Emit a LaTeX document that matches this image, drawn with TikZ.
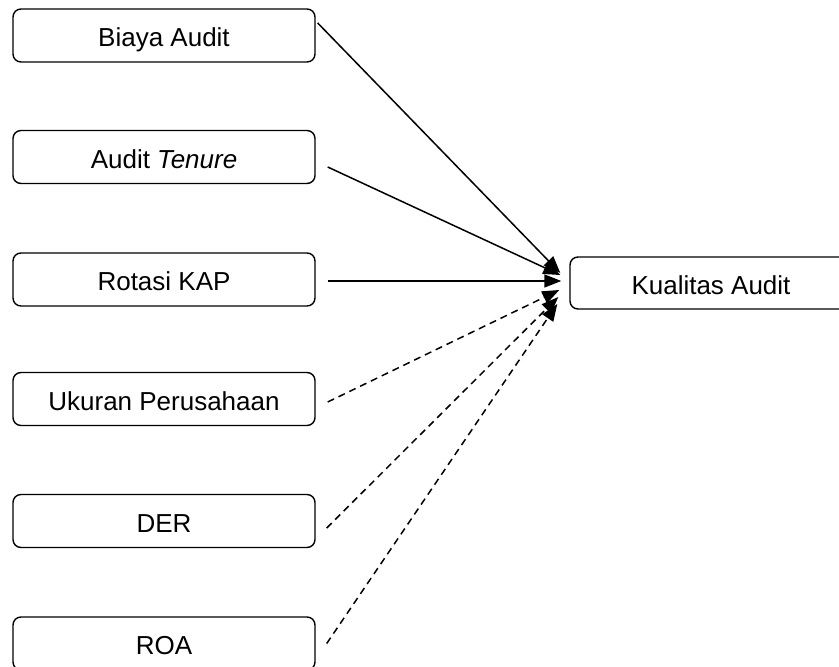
\documentclass[tikz,border=0pt]{standalone}
\usepackage{fontspec}
\setmainfont{Liberation Sans}
\usetikzlibrary{arrows.meta}
\begin{document}
\begin{tikzpicture}[x=1pt,y=1pt,
  box/.style={draw, line width=1.4pt, rounded corners=8pt, minimum width=302pt, minimum height=53pt, inner sep=0pt, text height=22.6pt, text depth=0pt, font=\fontsize{26}{30}\selectfont},
  rbox/.style={box, minimum width=282pt, minimum height=52pt},
  link/.style={line width=1.5pt, -{Triangle[length=17pt,width=13pt]}},
  dlink/.style={link, dash pattern=on 7pt off 5pt}]
\useasboundingbox (0,0) rectangle (839,667);
\clip (0,0) rectangle (839,667);
\node[box] (b1) at (164,631.5) {Biaya Audit};
\node[box] (b2) at (164,510) {Audit \textit{Tenure}};
\node[box] (b3) at (164,387.5) {Rotasi KAP};
\node[box] (b4) at (164,268) {Ukuran Perusahaan};
\node[box] (b5) at (164,146) {DER};
\node[box] (b6) at (164,23.5) {ROA};
\node[rbox] (k) at (711,384) {Kualitas Audit};
\draw[link] ([xshift=2pt,yshift=12.5pt]b1.east) -- ([xshift=-9pt,yshift=10pt]k.west);
\draw[link] ([xshift=12pt,yshift=-10pt]b2.east) -- ([xshift=-9pt,yshift=8pt]k.west);
\draw[link] ([xshift=12pt,yshift=-1.5pt]b3.east) -- ([xshift=-8pt,yshift=2pt]k.west);
\draw[dlink] ([xshift=12pt,yshift=-3pt]b4.east) -- ([xshift=-10pt,yshift=-7pt]k.west);
\draw[dlink] ([xshift=11pt,yshift=-7pt]b5.east) -- ([xshift=-11pt,yshift=-14pt]k.west);
\draw[dlink] ([xshift=11pt,yshift=0pt]b6.east) -- ([xshift=-12pt,yshift=-21pt]k.west);
\end{tikzpicture}
\end{document}
